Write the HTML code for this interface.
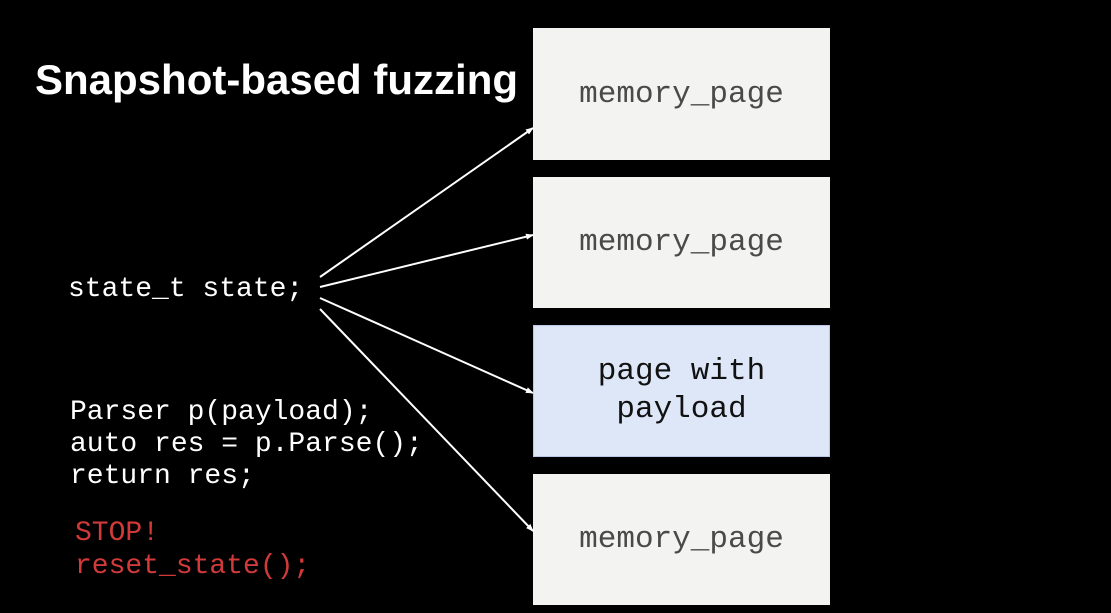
<!DOCTYPE html>
<html><head><style>
body{margin:0;width:1111px;height:613px;background:#000;position:relative;overflow:hidden;font-family:"Liberation Mono",monospace}
.t{position:absolute;white-space:pre;line-height:1}
.box{position:absolute;left:533px;width:297px;background:#f3f4f1;display:flex;align-items:center;justify-content:center;font-size:31px;color:#4a4a4a;font-family:"Liberation Mono",monospace;box-sizing:border-box}
</style></head><body>
<div class="t" style="left:35px;top:56px;font:bold 42px 'Liberation Sans',sans-serif;color:#fff">Snapshot-based fuzzing</div>
<div class="box" style="top:28px;height:132px">memory_page</div>
<div class="box" style="top:177px;height:131px">memory_page</div>
<div class="box" style="top:325px;height:132px;background:#dde7f8;border:1px solid #b8c8e6;color:#111;line-height:38px;text-align:center">page with<br>payload</div>
<div class="box" style="top:474px;height:131px">memory_page</div>
<div class="t" style="left:68px;top:276px;font-size:28px;color:#fff">state_t state;</div>
<div class="t" style="left:70px;top:397px;font-size:28px;color:#fff;line-height:32px">Parser p(payload);
auto res = p.Parse();
return res;</div>
<div class="t" style="left:75px;top:517px;font-size:28px;color:#d23a3a;line-height:33px">STOP!
reset_state();</div>
<svg width="1111" height="613" style="position:absolute;left:0;top:0">
<defs><marker id="a" markerWidth="8" markerHeight="8" refX="7" refY="4" orient="auto" markerUnits="userSpaceOnUse"><path d="M0,1 L8,4 L0,7z" fill="#fff"/></marker></defs>
<g stroke="#fff" stroke-width="2" marker-end="url(#a)">
<line x1="320" y1="277" x2="533" y2="128"/>
<line x1="320" y1="287" x2="533" y2="235"/>
<line x1="320" y1="298" x2="533" y2="393"/>
<line x1="320" y1="309" x2="533" y2="531"/>
</g></svg>
</body></html>
